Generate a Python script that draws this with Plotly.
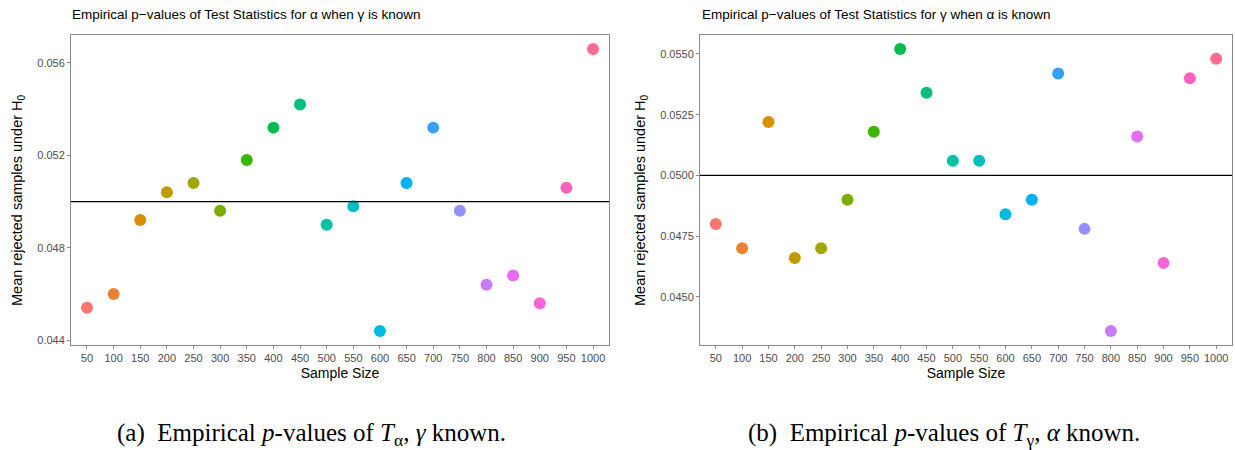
import plotly.graph_objects as go

sample_sizes = ["50", "100", "150", "200", "250", "300", "350", "400", "450", "500",
                "550", "600", "650", "700", "750", "800", "850", "900", "950", "1000"]
alpha_values = [0.0454, 0.0460, 0.0492, 0.0504, 0.0508, 0.0496, 0.0518, 0.0532, 0.0542, 0.0490,
                0.0498, 0.0444, 0.0508, 0.0532, 0.0496, 0.0464, 0.0468, 0.0456, 0.0506, 0.0566]
gamma_values = [0.0480, 0.0470, 0.0522, 0.0466, 0.0470, 0.0490, 0.0518, 0.0552, 0.0534, 0.0506,
                0.0506, 0.0484, 0.0490, 0.0542, 0.0478, 0.0436, 0.0516, 0.0464, 0.0540, 0.0548]
reference_level = 0.05
left_yticks = [0.044, 0.048, 0.052, 0.056]
right_yticks = [0.0450, 0.0475, 0.0500, 0.0525, 0.0550]
palette = ["#F8766D", "#EA8331", "#D89000", "#C09B00", "#A3A500", "#7CAE00", "#39B600",
           "#00BB4E", "#00BF7D", "#00C1A3", "#00BFC4", "#00BAE0", "#00B0F6", "#35A2FF",
           "#9590FF", "#C77CFF", "#E76BF3", "#FA62DB", "#FF62BC", "#FF6C91"]

W, H = 1235, 450
fig = go.Figure()

def px_x(p):
    return p / W

def px_y(p):
    return 1 - p / H

panels = [
    dict(vals=alpha_values, xa="x", ya="y", dom=[px_x(71), px_x(609)], ticks=left_yticks, fmt=".3f",
         title="Empirical p\u2212values of Test Statistics for \u03b1 when \u03b3 is known", tx=70, ytx=18,
         cap="(a)  Empirical <i>p</i>-values of <i>T</i><sub>\u03b1</sub>, <i>\u03b3</i> known.", capx=311),
    dict(vals=gamma_values, xa="x2", ya="y2", dom=[px_x(700), px_x(1232)], ticks=right_yticks, fmt=".4f",
         title="Empirical p\u2212values of Test Statistics for \u03b3 when \u03b1 is known", tx=700, ytx=641,
         cap="(b)  Empirical <i>p</i>-values of <i>T</i><sub>\u03b3</sub>, <i>\u03b1</i> known.", capx=944),
]

ydom = [px_y(345), px_y(35)]
axis_common = dict(showline=True, mirror=True, linecolor="#8a8a8a", linewidth=1,
                   ticks="outside", ticklen=3, tickcolor="#8a8a8a", showgrid=False, zeroline=False,
                   tickfont=dict(family="Liberation Sans, Arial", size=11, color="#4d4d4d"))

for i, p in enumerate(panels):
    fig.add_trace(go.Scatter(x=sample_sizes, y=p["vals"], mode="markers", xaxis=p["xa"], yaxis=p["ya"],
                             marker=dict(color=palette, size=12, line=dict(width=0)), showlegend=False,
                             cliponaxis=False))
    lo, hi = min(p["vals"]), max(p["vals"])
    pad = (hi - lo) * 0.05
    suffix = "" if i == 0 else "2"
    fig.update_layout(**{
        "xaxis" + suffix: dict(domain=p["dom"], anchor="y" + suffix, type="category",
                               range=[-0.6, len(sample_sizes) - 0.4],
                               title=dict(text="Sample Size", standoff=4,
                                          font=dict(family="Liberation Sans, Arial", size=14, color="black")),
                               **axis_common),
        "yaxis" + suffix: dict(domain=ydom, anchor="x" + suffix, range=[lo - pad, hi + pad],
                               tickvals=p["ticks"], tickformat=p["fmt"], **axis_common),
    })
    fig.add_shape(type="line", xref=p["xa"] + " domain", yref=p["ya"], x0=0, x1=1,
                  y0=reference_level, y1=reference_level, line=dict(color="black", width=1.2))
    fig.add_annotation(text=p["title"], xref="paper", yref="paper", x=px_x(p["tx"]), y=px_y(15),
                       xanchor="left", yanchor="middle", showarrow=False,
                       font=dict(family="Liberation Sans, Arial", size=13.5, color="black"))
    fig.add_annotation(text="Mean rejected samples under H<sub>0</sub>", xref="paper", yref="paper",
                       x=px_x(p["ytx"]), y=px_y(200), textangle=-90, xanchor="center", yanchor="middle",
                       showarrow=False, font=dict(family="Liberation Sans, Arial", size=14.5, color="black"))
    fig.add_annotation(text=p["cap"], xref="paper", yref="paper", x=px_x(p["capx"]), y=px_y(434),
                       xanchor="center", yanchor="middle", showarrow=False,
                       font=dict(family="Liberation Serif, Times New Roman", size=25, color="black"))

fig.update_layout(width=W, height=H, margin=dict(l=0, r=0, t=0, b=0),
                  paper_bgcolor="white", plot_bgcolor="white")
fig.write_html("out.html", config={"displayModeBar": False},
               post_script="document.body.style.margin='0';document.body.style.overflow='hidden';")
